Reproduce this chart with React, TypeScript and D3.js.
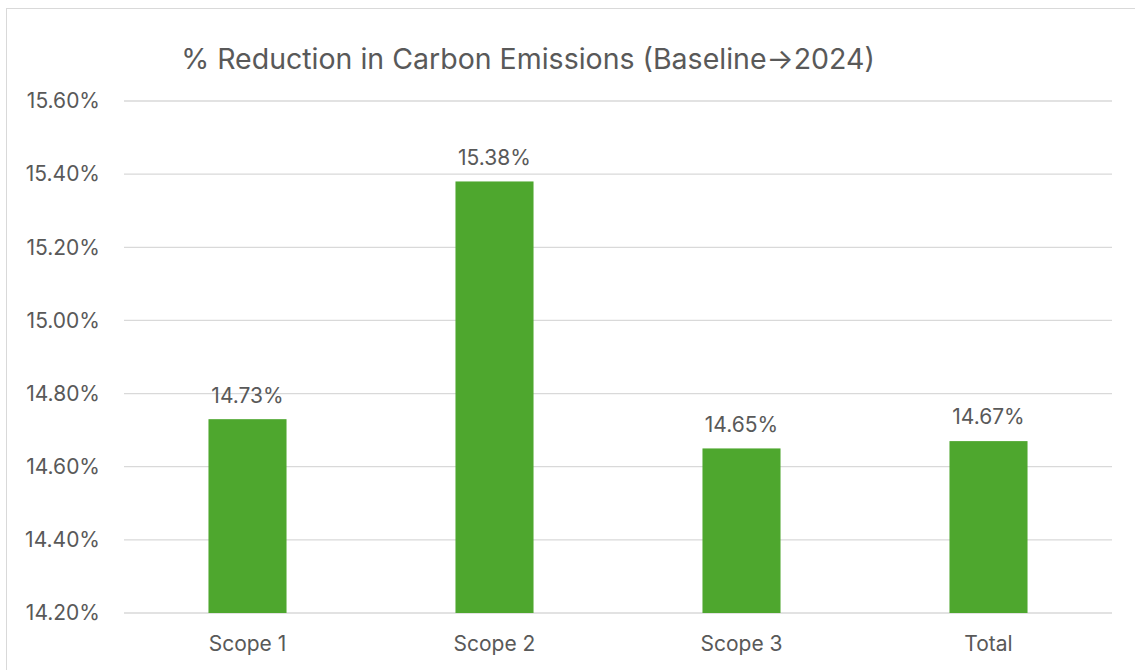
import { useEffect, useRef } from 'react';
import * as d3 from 'd3';

const categories = ['Scope 1', 'Scope 2', 'Scope 3', 'Total'];
const reductions = [14.73, 15.38, 14.65, 14.67];
const yTicks = [14.2, 14.4, 14.6, 14.8, 15.0, 15.2, 15.4, 15.6];
const title = '% Reduction in Carbon Emissions (Baseline\u21922024)';

const W = 1135;
const H = 670;
const FONT = 'Inter, "Open Sans", sans-serif';
const TEXT = '#595959';
const GRID = '#d9d9d9';
const GREEN = '#4ea72e';

export default function App() {
  const ref = useRef<SVGSVGElement | null>(null);

  useEffect(() => {
    const margin = { top: 101, right: 23, bottom: 57, left: 124 };
    const width = W - margin.left - margin.right;
    const height = H - margin.top - margin.bottom;

    d3.select(ref.current).selectAll('*').remove();
    const root = d3.select(ref.current);

    // chart border
    root.append('rect')
      .attr('x', 6.5).attr('y', 8.5)
      .attr('width', W).attr('height', H)
      .attr('fill', 'white')
      .attr('stroke', GRID);

    root.append('text')
      .attr('x', 528).attr('y', 69)
      .attr('text-anchor', 'middle')
      .attr('font-family', FONT)
      .attr('font-size', 28.5)
      .attr('fill', TEXT)
      .text(title);

    const svg = root.append('g')
      .attr('transform', `translate(${margin.left},${margin.top})`);

    const x = d3.scaleBand<string>()
      .domain(categories)
      .range([0, width])
      .paddingInner(0.684)
      .paddingOuter(0.342);

    const y = d3.scaleLinear()
      .domain([14.2, 15.6])
      .range([height, 0]);

    // gridlines
    svg.append('g')
      .selectAll('line')
      .data(yTicks)
      .enter().append('line')
      .attr('x1', 0).attr('x2', width)
      .attr('y1', d => y(d)).attr('y2', d => y(d))
      .attr('stroke', GRID)
      .attr('stroke-width', 1.3);

    // y labels
    svg.append('g')
      .selectAll('text')
      .data(yTicks)
      .enter().append('text')
      .attr('x', -24)
      .attr('y', d => y(d))
      .attr('dy', '0.35em')
      .attr('text-anchor', 'end')
      .attr('font-family', FONT)
      .attr('font-size', 21)
      .attr('fill', TEXT)
      .text(d => d.toFixed(2) + '%');

    // bars
    svg.append('g')
      .selectAll('rect')
      .data(reductions)
      .enter().append('rect')
      .attr('x', (d, i) => x(categories[i]) as number)
      .attr('width', x.bandwidth())
      .attr('y', d => y(d))
      .attr('height', d => height - y(d))
      .attr('fill', GREEN);

    // data labels
    svg.append('g')
      .selectAll('text')
      .data(reductions)
      .enter().append('text')
      .attr('x', (d, i) => (x(categories[i]) as number) + x.bandwidth() / 2)
      .attr('y', d => y(d) - 24)
      .attr('dy', '0.35em')
      .attr('text-anchor', 'middle')
      .attr('font-family', FONT)
      .attr('font-size', 21)
      .attr('fill', TEXT)
      .text(d => d.toFixed(2) + '%');

    // x labels
    svg.append('g')
      .selectAll('text')
      .data(categories)
      .enter().append('text')
      .attr('x', d => (x(d) as number) + x.bandwidth() / 2)
      .attr('y', height + 31)
      .attr('dy', '0.35em')
      .attr('text-anchor', 'middle')
      .attr('font-family', FONT)
      .attr('font-size', 21)
      .attr('fill', TEXT)
      .text(d => d);
  }, []);

  return (
    <div style={{ position: 'fixed', left: 0, top: 0, width: W, height: H, background: 'white' }}>
      <svg ref={ref} width={W} height={H}></svg>
    </div>
  );
}
